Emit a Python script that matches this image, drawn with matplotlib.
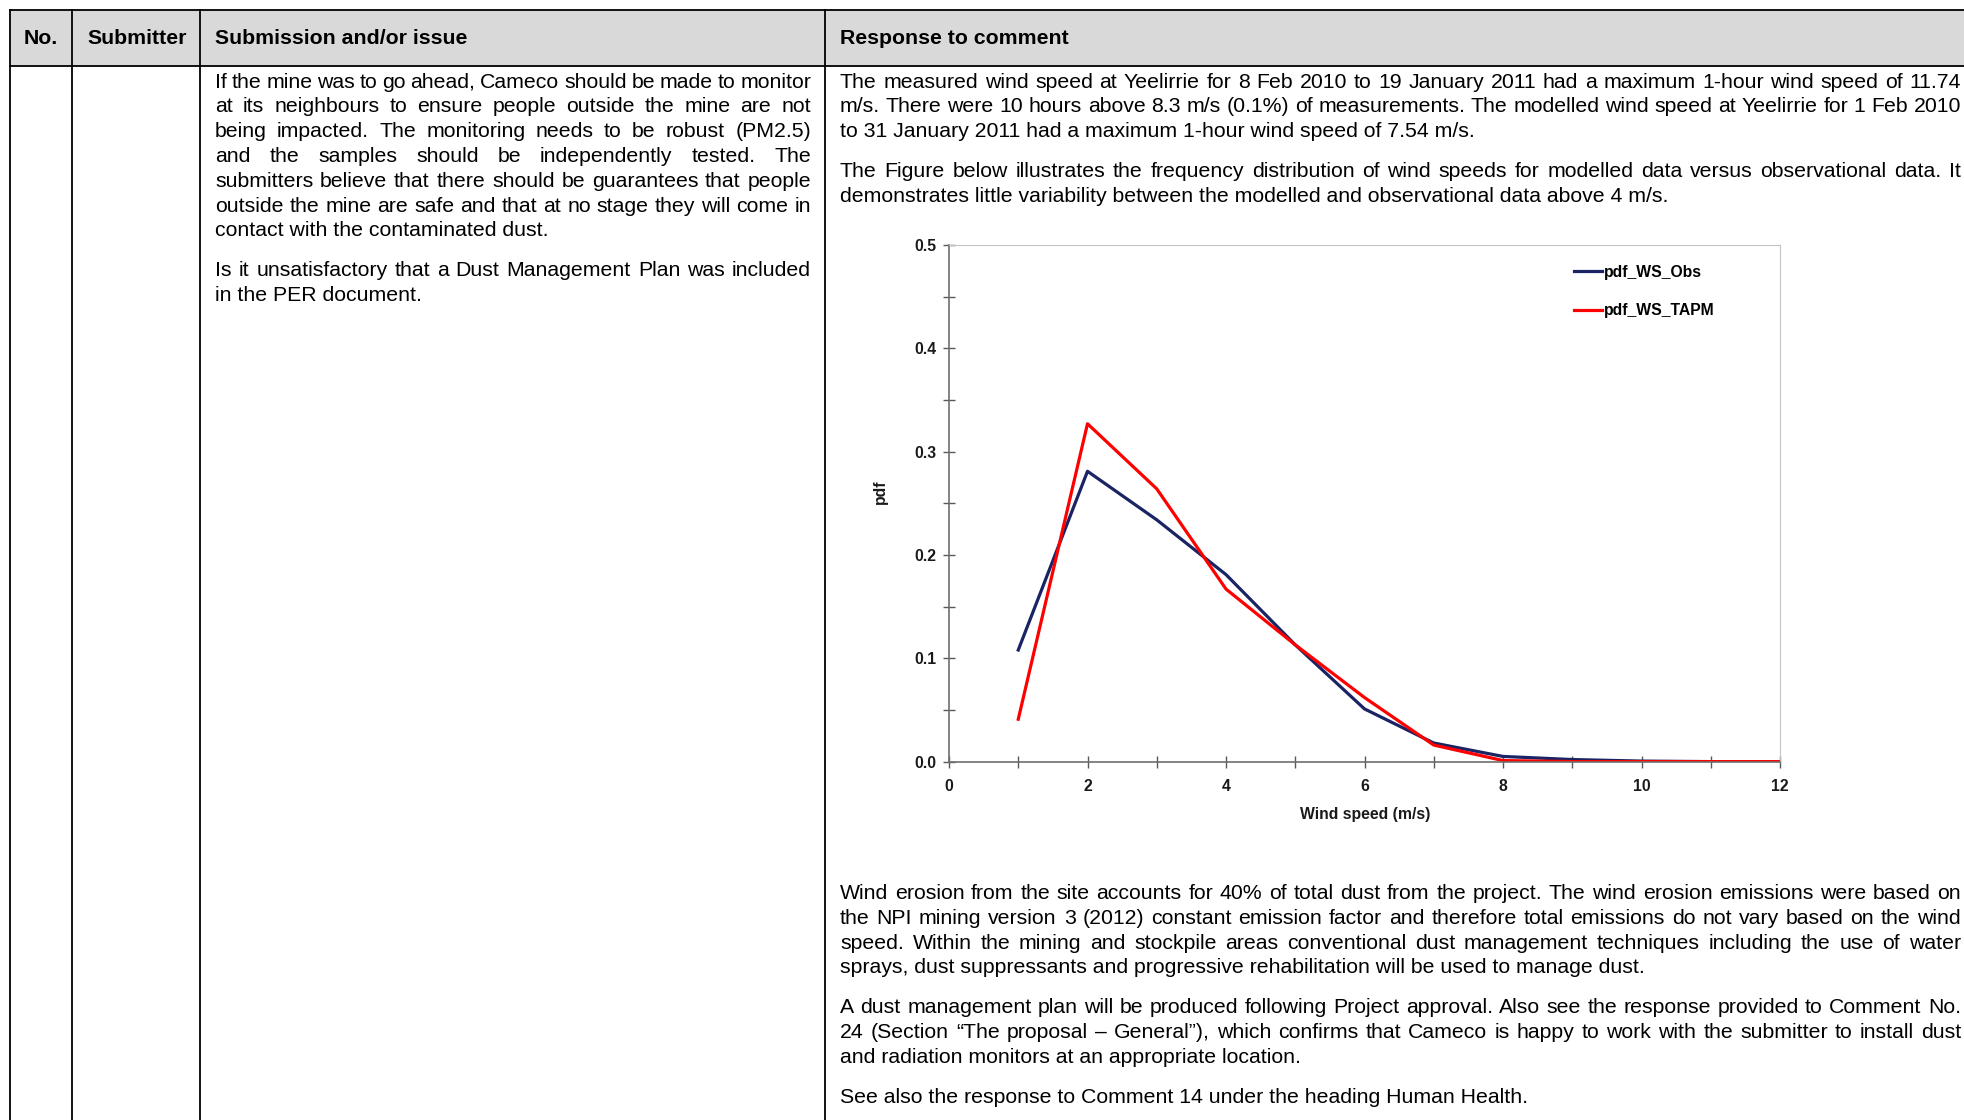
import numpy as np
import matplotlib.pyplot as plt
from matplotlib.ticker import MultipleLocator, FormatStrFormatter

plt.rcParams['font.family'] = ['Liberation Sans', 'DejaVu Sans']

# chart data
wind_speed = [1, 2, 3, 4, 5, 6, 7, 8, 9, 10, 11, 12]
pdf_obs = [0.108, 0.281, 0.234, 0.181, 0.113, 0.051, 0.018, 0.005, 0.002, 0.0005, 0.0, 0.0]
pdf_tapm = [0.041, 0.327, 0.264, 0.167, 0.113, 0.062, 0.016, 0.001, 0.0, 0.0, 0.0, 0.0]
series_names = ['pdf_WS_Obs', 'pdf_WS_TAPM']

headers = ['No.', 'Submitter', 'Submission and/or issue', 'Response to comment']

issue_text = [
    ["If the mine was to go ahead, Cameco should be made to monitor",
     "at its neighbours to ensure people outside the mine are not",
     "being impacted.  The monitoring needs to be robust (PM2.5)",
     "and the samples should be independently tested.  The",
     "submitters believe that there should be guarantees that people",
     "outside the mine are safe and that at no stage they will come in",
     "contact with the contaminated dust."],
    ["Is it unsatisfactory that a Dust Management Plan was included",
     "in the PER document."],
]

response_top = [
    ["The measured wind speed at Yeelirrie for 8 Feb 2010 to 19 January 2011 had a maximum 1-hour wind speed of 11.74",
     "m/s.  There were 10 hours above 8.3 m/s (0.1%) of measurements. The modelled wind speed at Yeelirrie for 1 Feb 2010",
     "to 31 January 2011 had a maximum 1-hour wind speed of 7.54 m/s."],
    ["The Figure below illustrates the frequency distribution of wind speeds for modelled data versus observational data.  It",
     "demonstrates little variability between the modelled and observational data above 4 m/s."],
]

response_bottom = [
    ["Wind erosion from the site accounts for 40% of total dust from the project. The wind erosion emissions were based on",
     "the NPI mining version 3 (2012) constant emission factor and therefore total emissions do not vary based on the wind",
     "speed.  Within the mining and stockpile areas conventional dust management techniques including the use of water",
     "sprays, dust suppressants and progressive rehabilitation will be used to manage dust."],
    ["A dust management plan will be produced following Project approval. Also see the response provided to Comment No.",
     "24 (Section \u201cThe proposal \u2013 General\u201d), which confirms that Cameco is happy to work with the submitter to install dust",
     "and radiation monitors at an appropriate location."],
    ["See also the response to Comment 14 under the heading Human Health."],
]

W, H = 1964, 1120
fig = plt.figure(figsize=(W / 100, H / 100), dpi=100)

# page layer in pixel coordinates
bg = fig.add_axes([0, 0, 1, 1])
bg.set_xlim(0, W)
bg.set_ylim(H, 0)
bg.axis('off')
renderer = fig.canvas.get_renderer()

FS = 15.3
LINE = 24.8
PARA = 40
CFS = 11.3   # chart font size

# table grid
top, head_bot = 10, 66
cols = [10, 72.5, 200.5, 825]
bg.fill_between([cols[0], W], top, head_bot, color='#d9d9d9', lw=0)
bg.plot([cols[0], W], [top, top], color='black', lw=1.3)
bg.plot([cols[0], W], [head_bot, head_bot], color='black', lw=1.3)
for c in cols:
    bg.plot([c, c], [top, H], color='black', lw=1.3)

head_x = [24, 87.5, 215, 840]
for hx, h in zip(head_x, headers):
    bg.text(hx, 44.5, h, fontsize=FS, fontweight='bold', va='baseline', ha='left')


def draw_line(x0, x1, y, line, justify):
    if not justify:
        bg.text(x0, y, line, fontsize=FS, va='baseline', ha='left')
        return
    words = line.split()
    objs = [bg.text(0, y, w, fontsize=FS, va='baseline', ha='left') for w in words]
    widths = [o.get_window_extent(renderer).width for o in objs]
    gap = (x1 - x0 - sum(widths)) / (len(words) - 1)
    x = x0
    for o, w in zip(objs, widths):
        o.set_x(x)
        x += w + gap


def draw_paras(x0, x1, y, paras):
    for p in paras:
        for i, line in enumerate(p):
            draw_line(x0, x1, y, line, i < len(p) - 1)
            if i < len(p) - 1:
                y += LINE
        y += PARA


draw_paras(215, 811, 87.5, issue_text)
draw_paras(840, 1961, 87.5, response_top)
draw_paras(840, 1961, 899, response_bottom)

# embedded chart
ax = fig.add_axes([949 / W, 1 - 761.6 / H, 831 / W, 516.6 / H])
ax.plot(wind_speed, pdf_obs, color='#1a2464', lw=2.3, label=series_names[0])
ax.plot(wind_speed, pdf_tapm, color='#ff0000', lw=2.3, label=series_names[1])
ax.set_xlim(0, 12)
ax.set_ylim(0, 0.5)
ax.xaxis.set_major_locator(MultipleLocator(2))
ax.xaxis.set_minor_locator(MultipleLocator(1))
ax.yaxis.set_major_locator(MultipleLocator(0.1))
ax.yaxis.set_minor_locator(MultipleLocator(0.05))
ax.yaxis.set_major_formatter(FormatStrFormatter('%.1f'))
for s in ['top', 'right']:
    ax.spines[s].set_color('#c4c4c4')
for s in ['left', 'bottom']:
    ax.spines[s].set_color('#6e6e6e')
    ax.spines[s].set_linewidth(1.2)
ax.tick_params(which='both', direction='inout', length=8.6, width=1, color='#595959')
ax.tick_params(axis='x', which='both', top=False, pad=8.4)
ax.tick_params(axis='y', which='both', right=False, pad=5.0)
for lab in ax.get_xticklabels() + ax.get_yticklabels():
    lab.set_fontsize(CFS)
    lab.set_fontweight('bold')
    lab.set_color('#1a1a1a')
ax.set_xlabel('Wind speed (m/s)', fontsize=CFS, fontweight='bold', va='center', color='#1a1a1a')
ax.xaxis.set_label_coords((1365 - 949) / 831, (761.6 - 814) / 516.6)
ax.set_ylabel('pdf', fontsize=CFS, fontweight='bold', va='center', color='#1a1a1a')
ax.yaxis.set_label_coords((880 - 949) / 831, (761.6 - 492) / 516.6)
leg = ax.legend(loc='upper left', bbox_to_anchor=(0.752, 0.962), frameon=False,
                borderpad=0, borderaxespad=0, handlelength=1.78, handletextpad=0.12,
                labelspacing=1.5, prop={'size': CFS, 'weight': 'bold'})

fig.savefig('out.png', dpi=100)
